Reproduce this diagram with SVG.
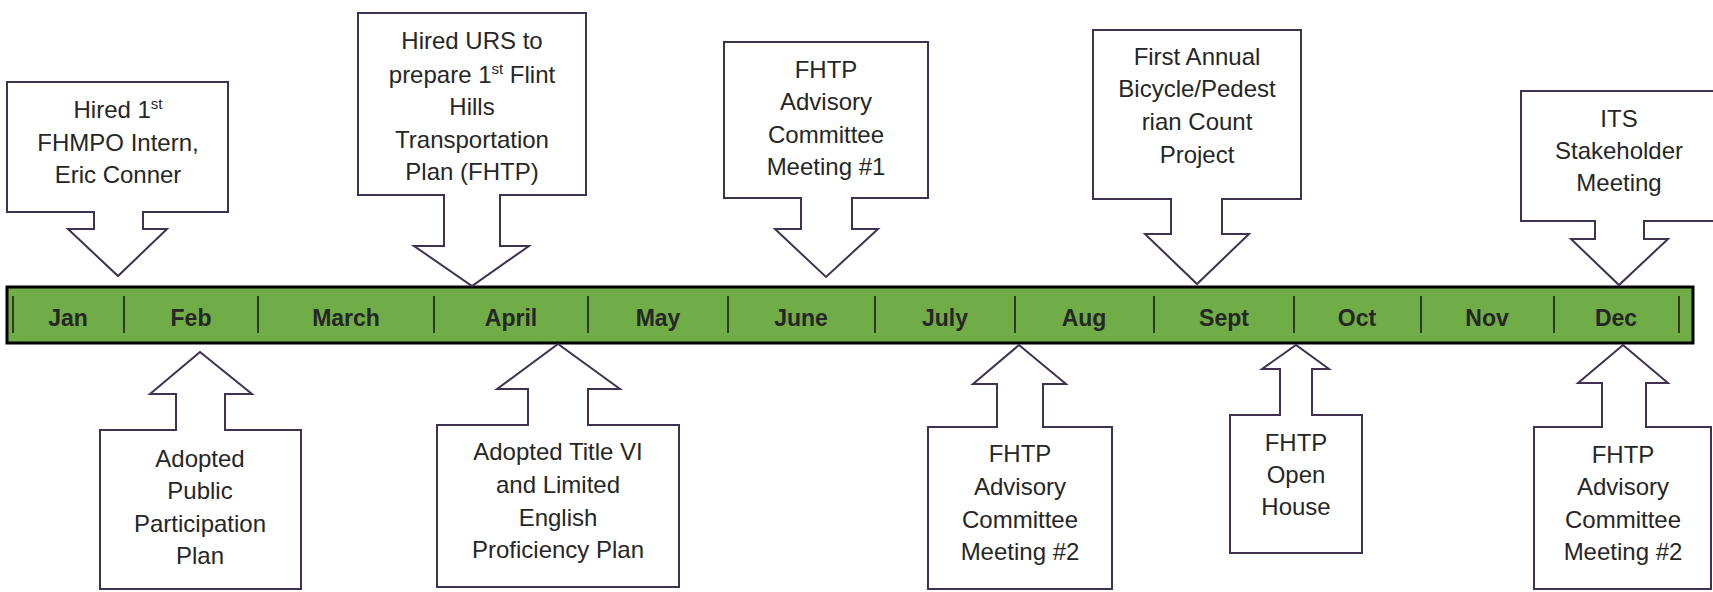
<svg xmlns="http://www.w3.org/2000/svg" width="1713" height="592" viewBox="0 0 1713 592">
<style>
.co{fill:#fff;stroke:#3F3151;stroke-width:2;stroke-linejoin:miter}
.t{font-family:"Liberation Sans",Arial,sans-serif;font-size:24px;fill:#262626;text-anchor:middle}
.m{font-family:"Liberation Sans",Arial,sans-serif;font-size:23px;font-weight:bold;fill:#262626;text-anchor:middle}
.tick{stroke:#2E3B24;stroke-width:2}
.sup{font-size:15px}
</style>
<rect width="1713" height="592" fill="#fff"/>
<g id="timeline">
<rect x="7" y="287" width="1686" height="56" fill="#70AD47" stroke="#000" stroke-width="3"/>
<g class="tick">
<line x1="13" y1="296" x2="13" y2="333"/><line x1="124" y1="296" x2="124" y2="333"/><line x1="258" y1="296" x2="258" y2="333"/><line x1="434" y1="296" x2="434" y2="333"/><line x1="588" y1="296" x2="588" y2="333"/><line x1="728" y1="296" x2="728" y2="333"/><line x1="875" y1="296" x2="875" y2="333"/><line x1="1015" y1="296" x2="1015" y2="333"/><line x1="1154" y1="296" x2="1154" y2="333"/><line x1="1294" y1="296" x2="1294" y2="333"/><line x1="1421" y1="296" x2="1421" y2="333"/><line x1="1554" y1="296" x2="1554" y2="333"/><line x1="1679" y1="296" x2="1679" y2="333"/>
</g>
<g class="m">
<text x="68" y="326">Jan</text><text x="191" y="326">Feb</text><text x="346" y="326">March</text><text x="511" y="326">April</text><text x="658" y="326">May</text><text x="801" y="326">June</text><text x="945" y="326">July</text><text x="1084" y="326">Aug</text><text x="1224" y="326">Sept</text><text x="1357" y="326">Oct</text><text x="1487" y="326">Nov</text><text x="1616" y="326">Dec</text>
</g>
</g>
<g id="connectors"></g>
<g id="n1">
<path class="co" d="M7,82 H228 V212 H143 V229 H167 L118,276 L68,229 H94 V212 H7 Z"/>
<text class="t" x="118" y="118">Hired 1<tspan class="sup" dy="-9">st</tspan></text>
<text class="t" x="118" y="151">FHMPO Intern,</text>
<text class="t" x="118" y="183">Eric Conner</text>
</g>
<g id="n2">
<path class="co" d="M358,13 H586 V195 H500 V246 H529 L472,286 L414,246 H444 V195 H358 Z"/>
<text class="t" x="472" y="49">Hired URS to</text>
<text class="t" x="472" y="83">prepare 1<tspan class="sup" dy="-9">st</tspan><tspan dy="9"> Flint</tspan></text>
<text class="t" x="472" y="115">Hills</text>
<text class="t" x="472" y="148">Transportation</text>
<text class="t" x="472" y="180">Plan (FHTP)</text>
</g>
<g id="n3">
<path class="co" d="M724,42 H928 V198 H852 V229 H878 L826,277 L775,229 H801 V198 H724 Z"/>
<text class="t" x="826" y="78">FHTP</text>
<text class="t" x="826" y="110">Advisory</text>
<text class="t" x="826" y="143">Committee</text>
<text class="t" x="826" y="175">Meeting #1</text>
</g>
<g id="n4">
<path class="co" d="M1093,30 H1301 V199 H1222 V234 H1249 L1197,284 L1145,234 H1171 V199 H1093 Z"/>
<text class="t" x="1197" y="65">First Annual</text>
<text class="t" x="1197" y="97">Bicycle/Pedest</text>
<text class="t" x="1197" y="130">rian Count</text>
<text class="t" x="1197" y="163">Project</text>
</g>
<g id="n5">
<path class="co" d="M1521,91 H1717 V221 H1644 V239 H1668 L1619,285 L1571,239 H1595 V221 H1521 Z"/>
<text class="t" x="1619" y="127">ITS</text>
<text class="t" x="1619" y="159">Stakeholder</text>
<text class="t" x="1619" y="191">Meeting</text>
</g>
<g id="n6">
<path class="co" d="M100,589 V430 H176 V394 H150 L200,352 L252,394 H225 V430 H301 V589 Z"/>
<text class="t" x="200" y="467">Adopted</text>
<text class="t" x="200" y="499">Public</text>
<text class="t" x="200" y="532">Participation</text>
<text class="t" x="200" y="564">Plan</text>
</g>
<g id="n7">
<path class="co" d="M437,587 V425 H528 V389 H497 L558,344 L620,389 H588 V425 H679 V587 Z"/>
<text class="t" x="558" y="460">Adopted Title VI</text>
<text class="t" x="558" y="493">and Limited</text>
<text class="t" x="558" y="526">English</text>
<text class="t" x="558" y="558">Proficiency Plan</text>
</g>
<g id="n8">
<path class="co" d="M928,589 V427 H997 V384 H973 L1019,345 L1066,384 H1043 V427 H1112 V589 Z"/>
<text class="t" x="1020" y="462">FHTP</text>
<text class="t" x="1020" y="495">Advisory</text>
<text class="t" x="1020" y="528">Committee</text>
<text class="t" x="1020" y="560">Meeting #2</text>
</g>
<g id="n9">
<path class="co" d="M1230,553 V415 H1280 V369 H1262 L1296,345 L1329,369 H1312 V415 H1362 V553 Z"/>
<text class="t" x="1296" y="451">FHTP</text>
<text class="t" x="1296" y="483">Open</text>
<text class="t" x="1296" y="515">House</text>
</g>
<g id="n10">
<path class="co" d="M1534,589 V427 H1602 V383 H1578 L1623,345 L1668,383 H1646 V427 H1711 V589 Z"/>
<text class="t" x="1623" y="463">FHTP</text>
<text class="t" x="1623" y="495">Advisory</text>
<text class="t" x="1623" y="528">Committee</text>
<text class="t" x="1623" y="560">Meeting #2</text>
</g>
</svg>
